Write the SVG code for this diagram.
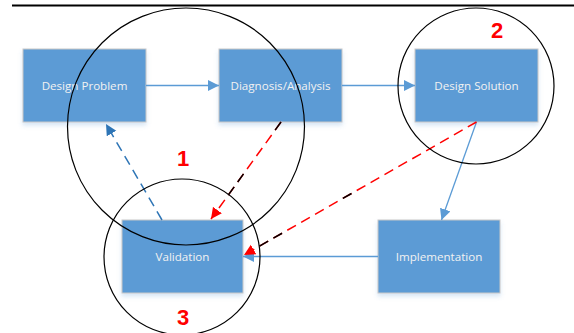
<svg xmlns="http://www.w3.org/2000/svg" width="574" height="333" viewBox="0 0 574 333">
<style>
.box{fill:#5b9bd5;stroke:#c8c8c8;stroke-width:1}
.lbl{font-family:"Open Sans","Liberation Sans",sans-serif;font-size:11.6px;fill:#f2f2f2;text-anchor:middle}
.num{font-family:"Liberation Sans",Arial,sans-serif;font-weight:bold;font-size:22px;fill:#ff0000;text-anchor:middle}
.ring{fill:none;stroke:#000;stroke-width:1.2}
.solid{fill:none;stroke:#5b9bd5;stroke-width:1.3}
.bdash{fill:none;stroke:#2e75b6;stroke-width:1.5;stroke-dasharray:10 6}
.rdash{fill:none;stroke:#ff0000;stroke-width:1.5;stroke-dasharray:10 6}
</style>
<defs>
<filter id="sh" x="-10%" y="-10%" width="130%" height="140%">
<feDropShadow dx="0" dy="3" stdDeviation="2" flood-color="#5b9bd5" flood-opacity="0.25"/>
</filter>
<marker id="ab" markerUnits="userSpaceOnUse" markerWidth="12" markerHeight="12" refX="11" refY="5.5" orient="auto">
<path d="M0,0 L11,5.5 L0,11 z" fill="#5b9bd5"/>
</marker>
<marker id="ad" markerUnits="userSpaceOnUse" markerWidth="12" markerHeight="12" refX="11" refY="5.5" orient="auto">
<path d="M0,0 L11,5.5 L0,11 z" fill="#2e75b6"/>
</marker>
<marker id="ar" markerUnits="userSpaceOnUse" markerWidth="12" markerHeight="12" refX="11" refY="5.5" orient="auto">
<path d="M0,0 L11,5.5 L0,11 z" fill="#ff0000"/>
</marker>
</defs>
<rect width="574" height="333" fill="#ffffff"/>
<line x1="12" y1="5.5" x2="574" y2="5.5" stroke="#000" stroke-width="2"/>

<g id="design-problem"><rect class="box" filter="url(#sh)" x="23" y="49" width="123" height="73"/><text class="lbl" x="84.5" y="89.5">Design Problem</text></g>
<g id="diagnosis-analysis"><rect class="box" filter="url(#sh)" x="219" y="49" width="123" height="73"/><text class="lbl" x="280.5" y="89.5">Diagnosis/Analysis</text></g>
<g id="design-solution"><rect class="box" filter="url(#sh)" x="415" y="49" width="123" height="73"/><text class="lbl" x="476.5" y="89.5">Design Solution</text></g>
<g id="validation"><rect class="box" filter="url(#sh)" x="122" y="220" width="121" height="73"/><text class="lbl" x="182.5" y="260.5">Validation</text></g>
<g id="implementation"><rect class="box" filter="url(#sh)" x="378" y="220" width="122" height="73"/><text class="lbl" x="439" y="260.5">Implementation</text></g>

<g id="connectors">
<line class="solid" x1="146" y1="85.5" x2="219" y2="85.5" marker-end="url(#ab)"/>
<line class="solid" x1="342" y1="85.5" x2="415" y2="85.5" marker-end="url(#ab)"/>
<line class="solid" x1="476.5" y1="122" x2="441.5" y2="220" marker-end="url(#ab)"/>
<line class="solid" x1="378" y1="256.5" x2="243" y2="256.5" marker-end="url(#ab)"/>
<line class="bdash" x1="162" y1="220" x2="106" y2="124" marker-end="url(#ad)"/>
<!-- Diagnosis -> Validation -->
<line class="rdash" x1="281" y1="122" x2="211" y2="219" marker-end="url(#ar)"/>
<line x1="281" y1="122" x2="211" y2="219" fill="none" stroke="#000" stroke-width="1.5" stroke-dasharray="10 54 10 6 10 300"/>
<!-- Design Solution -> Validation -->
<line class="rdash" x1="476.5" y1="122" x2="244" y2="255" marker-end="url(#ar)"/>
<line x1="476.5" y1="122" x2="244" y2="255" fill="none" stroke="#000" stroke-width="1.5" stroke-dasharray="0 144 10 70 10 6 10 500"/>
</g>

<g id="circles">
<circle class="ring" cx="186" cy="126.5" r="118.5"/>
<circle class="ring" cx="476" cy="86" r="78"/>
<circle class="ring" cx="182" cy="257" r="78"/>
</g>
<g id="numbers">
<text class="num" x="183" y="166">1</text>
<text class="num" x="497" y="37.5">2</text>
<text class="num" x="183" y="325">3</text>
</g>
</svg>
